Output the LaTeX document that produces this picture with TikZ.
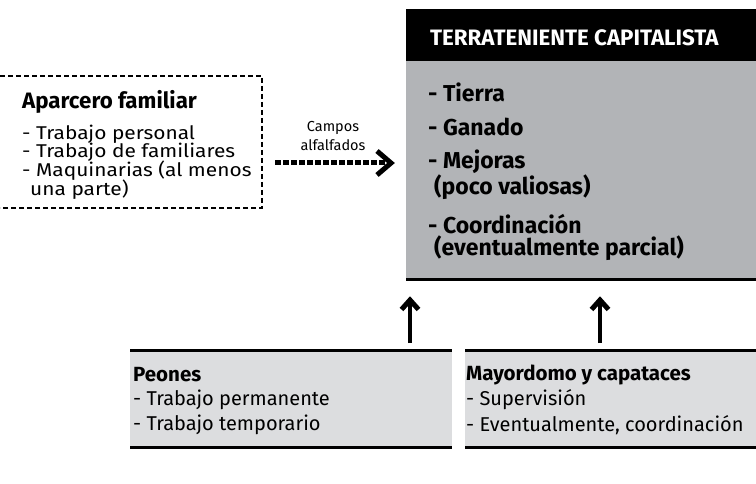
\documentclass[tikz,border=0pt]{standalone}
\usepackage{fontspec}
\setmainfont{Fira Sans}
\newfontfamily\wideface[FakeStretch=1.13]{Fira Sans}
\definecolor{darkgraybox}{HTML}{B2B4B7}
\definecolor{lightgraybox}{HTML}{DCDDDF}
\begin{document}
\begin{tikzpicture}[x=1pt,y=-1pt,
  boxshape/.style={rectangle,inner sep=0pt,outer sep=0pt,anchor=north west},
  itemtext/.style={anchor=west,inner sep=0pt,font=\fontsize{23}{24}\selectfont\bfseries},
  apbold/.style={anchor=west,inner sep=0pt,font=\fontsize{22.3}{24}\selectfont\bfseries},
  aptext/.style={anchor=west,inner sep=0pt,font=\wideface\fontsize{18.5}{20}\selectfont},
  botbold/.style={anchor=west,inner sep=0pt,font=\fontsize{20.5}{22}\selectfont\bfseries},
  bottext/.style={anchor=west,inner sep=0pt,font=\fontsize{20}{22}\selectfont},
  smalltext/.style={anchor=center,inner sep=0pt,font=\fontsize{14.5}{16}\selectfont},
  rule/.style={line width=3pt,black},
  uparrow/.style={line width=4.5pt,black},
  chev/.style={line width=5pt,black,miter limit=10}
]
\useasboundingbox (0,0) rectangle (756,484);

% Terrateniente box
\node[boxshape,fill=black,minimum width=350pt,minimum height=52pt] (head) at (406,9) {};
\node[boxshape,fill=darkgraybox,minimum width=350pt,minimum height=219pt] (land) at (406,61) {};
\draw[rule] (land.south west) -- (land.south east);
\node[anchor=west,inner sep=0pt,text=white,font=\fontsize{22.3}{24}\selectfont\bfseries] (htitle) at (430,38) {TERRATENIENTE CAPITALISTA};
\node[itemtext] (i1) at (428,92) {- Tierra};
\node[itemtext] (i2) at (428,127) {- Ganado};
\node[itemtext] (i3) at (428,162) {- Mejoras};
\node[itemtext] (i3b) at (434,187) {(poco valiosas)};
\node[itemtext] (i4) at (428,224) {- Coordinación};
\node[itemtext] (i4b) at (434,248) {(eventualmente parcial)};

% Aparcero box (dashed, open on the left)
\coordinate (dtl) at (0,76);
\coordinate (dtr) at (262,76);
\coordinate (dbr) at (262,208);
\coordinate (dbl) at (0,208);
\draw[line width=2.5pt,dash pattern=on 5pt off 3pt] (dtl) -- (dtr) -- (dbr) -- (dbl);
\node[apbold] (ap) at (22,102) {Aparcero familiar};
\node[aptext] (ap1) at (22,134) {- Trabajo personal};
\node[aptext] (ap2) at (22,152.5) {- Trabajo de familiares};
\node[aptext] (ap3) at (22,171) {- Maquinarias (al menos};
\node[aptext] (ap4) at (30,189.5) {una parte)};

% dotted arrow
\node[smalltext] (lab1) at (333,128) {Campos};
\node[smalltext] (lab2) at (333,145) {alfalfados};
\coordinate (as) at (275,163);
\coordinate (ae) at (390,163);
\draw[line width=5pt,dash pattern=on 5.5pt off 2.5pt] (as) -- (ae);
\draw[chev] ([xshift=-13pt,yshift=-12pt]ae) -- ([xshift=1pt]ae) -- ([xshift=-13pt,yshift=12pt]ae);

% bottom boxes
\node[boxshape,fill=lightgraybox,minimum width=322pt,minimum height=97pt] (peones) at (130,350) {};
\draw[rule] (peones.north west) -- (peones.north east);
\draw[rule] (peones.south west) -- (peones.south east);
\node[boxshape,fill=lightgraybox,minimum width=291pt,minimum height=97pt] (mayor) at (465,350) {};
\draw[rule] (mayor.north west) -- (mayor.north east);
\draw[rule] (mayor.south west) -- (mayor.south east);

\node[botbold] (p0) at (133,375) {Peones};
\node[bottext] (p1) at (133,400) {- Trabajo permanente};
\node[bottext] (p2) at (133,425) {- Trabajo temporario};
\node[botbold] (m0) at (466,375) {Mayordomo y capataces};
\node[bottext] (m1) at (466,400) {- Supervisión};
\node[bottext] (m2) at (466,425) {- Eventualmente, coordinación};

% up arrows
\coordinate (a1s) at (410,343);
\coordinate (a1e) at (410,300);
\coordinate (a2s) at (600,343);
\coordinate (a2e) at (600,300);
\draw[uparrow] (a1s) -- (a1e);
\draw[chev] ([xshift=-8.5pt,yshift=-9.5pt]a1e) -- (a1e) -- ([xshift=8.5pt,yshift=-9.5pt]a1e);
\draw[uparrow] (a2s) -- (a2e);
\draw[chev] ([xshift=-8.5pt,yshift=-9.5pt]a2e) -- (a2e) -- ([xshift=8.5pt,yshift=-9.5pt]a2e);
\end{tikzpicture}
\end{document}
